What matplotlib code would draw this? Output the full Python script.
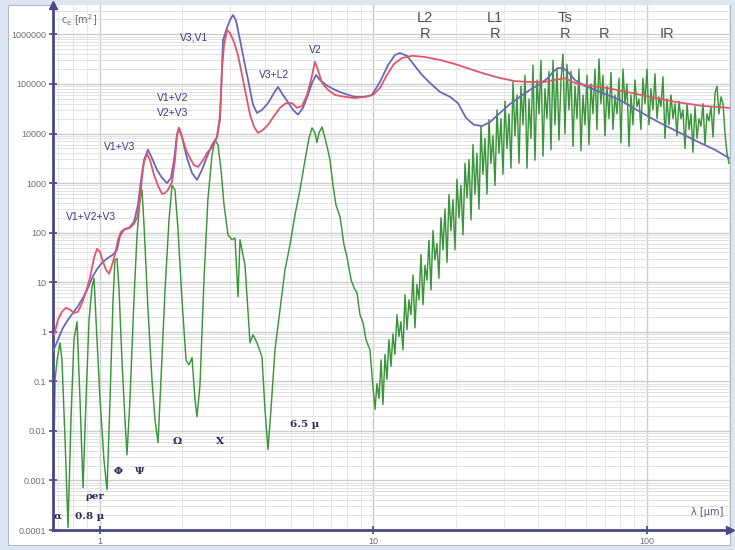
import matplotlib
matplotlib.use("Agg")
import matplotlib.pyplot as plt
from matplotlib.patches import Rectangle
from matplotlib.ticker import LogLocator, NullFormatter, FixedLocator, FixedFormatter

# ---------------- data ----------------
lam_red = [0.68, 0.702, 0.726, 0.751, 0.777, 0.803, 0.831, 0.860, 0.889, 0.919,
           0.951, 0.975, 1.0, 1.026, 1.052, 1.079, 1.106, 1.134, 1.164, 1.193,
           1.234, 1.287, 1.331, 1.366, 1.400, 1.424, 1.448, 1.485, 1.524, 1.576,
           1.630, 1.686, 1.729, 1.773, 1.834, 1.880, 1.912, 1.945, 1.994, 2.063,
           2.133, 2.206, 2.282, 2.381, 2.48, 2.589, 2.678, 2.747, 2.793, 2.841,
           2.913, 2.988, 3.09, 3.196, 3.306, 3.42, 3.536, 3.66, 3.782, 3.945,
           4.114, 4.33, 4.551, 4.79, 5.04, 5.251, 5.48, 5.713, 5.91, 6.110,
           6.27, 6.482, 6.82, 7.23, 7.868, 8.558, 9.311, 9.958, 10.56, 11.20,
           11.88, 12.71, 13.83, 15.43, 17.50, 19.86, 22.54, 25.56, 29.01, 32.92,
           37.35, 42.37, 47.28, 50.14, 54.54, 61.88, 71.40, 84.48, 102.6, 128.7,
           160.3, 199.5]
c_red = [0.87, 1.75, 2.53, 3.05, 2.78, 2.4, 2.53, 3.8, 6.4, 12.3,
         31, 47, 41, 25.8, 17.8, 14.8, 22, 36, 72, 104,
         119, 125, 150, 199, 460, 1270, 2680, 3880, 2900, 1460,
         880, 606, 630, 730, 1060, 2900, 9400, 13000, 8500, 4700,
         3200, 2300, 2120, 2900, 4300, 5400, 8500, 24000, 1.9e5, 6.1e5,
         1.23e6, 1.07e6, 7.0e5, 3.85e5, 1.52e5, 6.0e4, 2.4e4, 1.36e4, 1.03e4, 1.18e4,
         1.5e4, 2.26e4, 3.3e4, 4.1e4, 4.1e4, 3.3e4, 3.6e4, 6.0e4, 1.2e5, 2.8e5,
         1.9e5, 1.05e5, 7.6e4, 6.0e4, 5.5e4, 5.2e4, 5.5e4, 6.0e4, 8.3e4, 1.52e5,
         2.53e5, 3.34e5, 3.7e5, 3.5e5, 3.05e5, 2.53e5, 2.0e5, 1.6e5, 1.32e5, 1.14e5,
         1.1e5, 1.1e5, 1.24e5, 1.3e5, 1.05e5, 9.1e4, 8.3e4, 6.9e4, 5.5e4, 4.3e4,
         3.6e4, 3.3e4]

lam_blue = [0.673, 0.702, 0.732, 0.764, 0.797, 0.831, 0.867, 0.904, 0.943, 0.983,
            1.026, 1.070, 1.116, 1.154, 1.183, 1.224, 1.277, 1.331, 1.377, 1.413,
            1.448, 1.498, 1.549, 1.616, 1.686, 1.758, 1.818, 1.865, 1.912, 1.945,
            1.994, 2.080, 2.170, 2.263, 2.36, 2.462, 2.568, 2.678, 2.747, 2.817,
            2.913, 2.988, 3.064, 3.14, 3.251, 3.36, 3.48, 3.627, 3.750, 3.911,
            4.114, 4.33, 4.475, 4.668, 4.870, 5.079, 5.297, 5.524, 5.76, 5.959,
            6.17, 6.374, 6.71, 7.23, 7.868, 8.558, 9.311, 9.87, 10.56, 11.3,
            11.98, 12.50, 13.26, 14.18, 15.04, 16.09, 17.50, 19.05, 20.37, 21.8,
            23.3, 24.93, 26.67, 29.01, 31.57, 34.34, 37.35, 40.63, 43.45, 45.33,
            47.28, 49.31, 51.4, 54.54, 59.33, 67.31, 79.65, 94.27, 111.5, 132.1,
            156.2, 177.3, 199.5]
c_blue = [0.4, 0.69, 1.2, 1.75, 2.4, 3.3, 4.85, 7.7, 13.5, 19.5,
          25.8, 31, 36, 45, 86, 114, 125, 165, 363, 1160,
          2900, 4700, 3200, 1850, 1270, 1000, 1270, 2900, 9400, 13000,
          8500, 3200, 1600, 1160, 1850, 3400, 5900, 8500, 1.9e4, 7.7e5,
          1.35e6, 1.95e6, 2.46e6, 1.95e6, 7.7e5, 3.05e5, 1.2e5, 3.8e4, 2.6e4, 3.0e4,
          4.1e4, 6.6e4, 8.7e4, 6.0e4, 4.3e4, 3.0e4, 2.4e4, 3.3e4, 6.0e4, 1.05e5,
          1.52e5, 1.2e5, 9.5e4, 7.6e4, 6.3e4, 5.5e4, 5.5e4, 6.0e4, 1.1e5, 2.4e5,
          3.85e5, 4.2e5, 3.7e5, 2.3e5, 1.52e5, 1.05e5, 6.9e4, 5.5e4, 4.1e4, 2.06e4,
          1.5e4, 1.42e4, 1.7e4, 2.6e4, 3.95e4, 5.5e4, 7.6e4, 1.0e5, 1.32e5, 1.75e5,
          2.1e5, 2.1e5, 1.75e5, 1.2e5, 9.1e4, 6.9e4, 4.75e4, 2.75e4, 1.64e4, 1.03e4,
          6.5e3, 4.7e3, 3.2e3]

lam_green_uv = [0.673, 0.685, 0.697, 0.714, 0.726, 0.745, 0.764, 0.783, 0.803, 0.824,
                0.845, 0.867, 0.889, 0.912, 0.935, 0.951, 0.967, 1.0, 1.034, 1.061,
                1.088, 1.116, 1.134, 1.154, 1.174, 1.203, 1.234, 1.255, 1.287, 1.331,
                1.366, 1.400, 1.424, 1.448, 1.498, 1.549, 1.589, 1.630, 1.671, 1.729,
                1.788, 1.834, 1.880, 1.929, 1.994, 2.063, 2.115, 2.170, 2.225, 2.263,
                2.321, 2.40, 2.48, 2.568, 2.633, 2.701, 2.770, 2.841, 2.938, 3.039,
                3.116, 3.196, 3.251, 3.390, 3.536, 3.627, 3.750, 3.911, 4.011, 4.114,
                4.219, 4.363, 4.551, 4.747, 4.953, 5.164, 5.386, 5.618, 5.81, 5.959,
                6.110, 6.214, 6.32, 6.482, 6.648, 6.82, 6.934, 7.11, 7.29, 7.544,
                7.80, 8.0, 8.28, 8.49, 8.704, 8.926, 9.155, 9.39, 9.709, 9.87]
c_green_uv = [0.00016, 0.108, 0.27, 0.6, 0.27, 0.0067, 0.000112, 0.0168, 0.69, 1.59,
              0.043, 0.00072, 0.043, 1.75, 8.0, 12.0, 1.75, 0.043, 0.0026, 0.00065,
              0.043, 4.4, 28, 30, 7.0, 0.27, 0.0168, 0.0033, 0.043, 4.4,
              90, 460, 730, 150, 2.8, 0.108, 0.0168, 0.0058, 0.108, 7.0,
              181, 900, 730, 114, 4.4, 0.27, 0.216, 0.3, 0.043, 0.0193,
              0.085, 11.2, 460, 3700, 7400, 5900, 1850, 363, 90, 72,
              78, 5.1, 72, 22, 0.6, 0.87, 0.6, 0.31, 0.027, 0.0042,
              0.027, 0.43, 2.8, 17.8, 57, 229, 730, 2900, 8100, 13000,
              10300, 6600, 10300, 13600, 8100, 4500, 2900, 920, 363, 210,
              57, 32.5, 11.2, 7.7, 6.1, 2.2, 1.52, 0.69, 0.43, 0.136]

lam_green_ir = [10.13, 10.30, 10.48, 10.66, 10.83, 11.02, 11.20, 11.39, 11.59, 11.78,
                11.98, 12.19, 12.39, 12.60, 12.82, 13.04, 13.26, 13.48, 13.71, 13.95,
                14.18, 14.42, 14.67, 14.92, 15.17, 15.43, 15.69, 15.95, 16.23, 16.50,
                16.78, 17.06, 17.35, 17.65, 17.95, 18.26, 18.57, 18.88, 19.20, 19.53,
                19.86, 20.20, 20.54, 20.89, 21.25, 21.61, 21.98, 22.35, 22.73, 23.12,
                23.51, 23.90, 24.31, 24.72, 25.14, 25.57, 26.00, 26.45, 26.89, 27.35,
                27.82, 28.29, 28.77, 29.26, 29.75, 30.26, 30.77, 31.30, 31.83, 32.37,
                32.92, 33.48, 34.05, 34.62, 35.21, 35.81, 36.42, 37.04, 37.66, 38.30,
                38.95, 39.62, 40.29, 40.97, 41.67, 42.37, 43.09, 43.83, 44.57, 45.33,
                46.10, 46.88, 47.68, 48.48, 49.31, 50.14, 50.99, 51.86, 52.74, 53.64,
                54.55, 55.47, 56.42, 57.37, 58.35, 59.34, 60.35, 61.37, 62.41, 63.47,
                64.55, 65.65, 66.76, 67.90, 69.05, 70.22, 71.41, 72.63, 73.86, 75.11,
                76.39, 77.68, 79.00, 80.34, 81.71, 83.09, 84.50, 85.94, 87.40, 88.88,
                90.39, 91.92, 93.48, 95.07, 96.68, 98.33, 100.0, 101.7, 103.4, 105.2,
                107.0, 108.8, 110.6, 112.5, 114.4, 116.4, 118.3, 120.4, 122.4, 124.5,
                126.6, 128.7, 130.9, 133.2, 135.4, 137.7, 140.1, 142.5, 144.9, 147.3,
                149.8, 152.4, 155.0, 157.6, 160.3, 163.0, 165.8, 168.6, 171.5, 174.4,
                177.3, 180.3, 183.4, 186.5, 189.7, 192.9, 196.2, 199.5]
c_green_ir = [0.027, 0.09, 0.045, 0.27, 0.034, 0.35, 0.11, 0.69, 0.2, 0.9,
              0.35, 2.2, 0.8, 1.6, 0.43, 5.6, 1.1, 4.4, 2.2, 14,
              1.2, 9, 4.4, 36, 3.5, 22, 11, 70, 7, 110,
              28, 60, 12, 200, 45, 300, 25, 580, 110, 460,
              45, 1200, 200, 900, 90, 2500, 500, 3000, 180, 6000,
              600, 4000, 300, 14000, 1500, 8000, 600, 19000, 2500, 9000,
              900, 30000, 4000, 20000, 1500, 45000, 5000, 25000, 2000, 110000,
              9000, 60000, 2500, 90000, 15000, 150000, 2000, 50000, 8000, 240000,
              2900, 120000, 25000, 300000, 3500, 80000, 20000, 180000, 4700, 300000,
              15000, 200000, 7400, 120000, 400000, 10000, 250000, 30000, 180000, 5500,
              90000, 20000, 200000, 4500, 60000, 15000, 150000, 6000, 100000, 25000,
              200000, 12000, 320000, 40000, 150000, 9000, 90000, 20000, 170000, 12000,
              60000, 25000, 130000, 6500, 200000, 40000, 100000, 5500, 60000, 15000,
              120000, 35000, 50000, 12000, 130000, 40000, 200000, 15000, 80000, 30000,
              160000, 20000, 55000, 35000, 140000, 8000, 50000, 15000, 60000, 20000,
              40000, 9000, 45000, 20000, 30000, 5000, 40000, 12000, 25000, 4200,
              35000, 8000, 20000, 14000, 40000, 6000, 25000, 18000, 35000, 8500,
              65000, 90000, 25000, 55000, 40000, 10000, 4000, 2500]

y_ticks = [1e-4, 1e-3, 1e-2, 1e-1, 1, 10, 100, 1e3, 1e4, 1e5, 1e6]
y_tick_labels = ["0.0001", "0.001", "0.01", "0.1", "1", "10", "100", "1000",
                 "10000", "100000", "1000000"]
x_ticks = [1, 10, 100]
x_tick_labels = ["1", "10", "100"]

# band annotations (text, lambda, c)
mode_labels = [("V1+V2+V3", 0.927, 208), ("V1+V3", 1.183, 5400), ("V1+V2", 1.85, 5.2e4),
               ("V2+V3", 1.85, 2.6e4), ("V3,V1", 2.206, 8.5e5), ("V3+L2", 4.33, 1.52e5),
               ("V2", 6.11, 4.85e5)]
region_labels = [("L2", 15.43, 2.14e6), ("R", 15.43, 1.0e6), ("L1", 27.82, 2.14e6),
                 ("R", 27.82, 1.0e6), ("Ts", 50.14, 2.14e6), ("R", 50.14, 1.0e6),
                 ("R", 69.6, 1.0e6), ("IR", 118.3, 1.0e6)]
band_labels = [("α", 0.697, 1.9e-4), ("0.8 µ", 0.919, 1.9e-4), ("ρer", 0.959, 4.7e-4),
               ("Φ", 1.164, 1.5e-3), ("Ψ", 1.40, 1.5e-3), ("Ω", 1.912, 6.05e-3),
               ("X", 2.747, 6.05e-3), ("6.5 µ", 5.62, 1.33e-2)]

# ---------------- figure ----------------
W, H = 735, 550
fig = plt.figure(figsize=(W / 100, H / 100), dpi=100, facecolor="#dce6f2")
fig.patches.append(Rectangle((8 / W, 1 - 545 / H), (730 - 8) / W, (545 - 5) / H,
                             transform=fig.transFigure, facecolor="white",
                             edgecolor="#b4b8c0", linewidth=0.8, zorder=-5))

ax = fig.add_axes([53 / W, 1 - 530 / H, (730 - 53) / W, (530 - 5) / H])
ax.set_zorder(1)
ax.set_facecolor("white")
ax.set_xscale("log")
ax.set_yscale("log")
ax.set_xlim(0.6732, 201.2)
ax.set_ylim(1e-4, 3.92e6)

ax.xaxis.set_minor_locator(LogLocator(base=10, subs=range(2, 10)))
ax.yaxis.set_minor_locator(LogLocator(base=10, subs=range(2, 10), numticks=30))
ax.xaxis.set_minor_formatter(NullFormatter())
ax.yaxis.set_minor_formatter(NullFormatter())
ax.yaxis.set_major_locator(FixedLocator(y_ticks))
ax.yaxis.set_major_formatter(FixedFormatter(y_tick_labels))
ax.xaxis.set_major_locator(FixedLocator(x_ticks))
ax.xaxis.set_major_formatter(FixedFormatter(x_tick_labels))

ax.grid(which="minor", axis="y", color="#e2e2e2", linewidth=0.7)
ax.grid(which="minor", axis="x", color="#e8e8e8", linewidth=0.7)
ax.grid(which="major", color="#cdcdcd", linewidth=1.0)
ax.set_axisbelow(True)

spine_col = "#4a4888"
for s in ["top", "right"]:
    ax.spines[s].set_visible(False)
for s in ["left", "bottom"]:
    ax.spines[s].set_color(spine_col)
    ax.spines[s].set_linewidth(2.0)
ax.tick_params(which="major", direction="inout", length=6, width=1.2, color=spine_col,
               labelsize=6.5, labelcolor="#707070", pad=2)
ax.tick_params(which="minor", length=0)
for lab in ax.get_xticklabels() + ax.get_yticklabels():
    lab.set_family("Liberation Sans")

# axis arrows
ax.plot([0], [1], marker="^", markersize=6, color=spine_col, transform=ax.transAxes,
        clip_on=False, zorder=5)
ax.plot([1], [0], marker=">", markersize=6, color=spine_col, transform=ax.transAxes,
        clip_on=False, zorder=5)

# curves
ax.plot(lam_green_uv + lam_green_ir, c_green_uv + c_green_ir, color="#3a963a",
        linewidth=1.05, zorder=2)
ax.plot(lam_blue, c_blue, color="#6a68b8", linewidth=1.3, zorder=3)
ax.plot(lam_red, c_red, color="#e0566a", linewidth=1.3, zorder=4)

# labels
for t, x, y in mode_labels:
    ax.text(x, y, t, fontsize=7.5, color="#3c3c8c", ha="center", va="center",
            family="Liberation Sans", zorder=6)
for t, x, y in region_labels:
    ax.text(x, y, t, fontsize=10.5, color="#505060", ha="center", va="center",
            family="Liberation Sans", zorder=6)
for t, x, y in band_labels:
    ax.text(x, y, t, fontsize=7.5, color="#2a2a5a", ha="center", va="center",
            family="DejaVu Serif", fontweight="bold", zorder=6)

ax.text(0.012, 0.985, r"c$_\mathrm{e}$ [m$^2$]", transform=ax.transAxes, fontsize=7,
        color="#666680", ha="left", va="top")
ax.text(0.99, 0.025, "λ [µm]", transform=ax.transAxes, fontsize=7,
        color="#555577", ha="right", va="bottom")

fig.savefig("out.png", dpi=100, facecolor=fig.get_facecolor())
